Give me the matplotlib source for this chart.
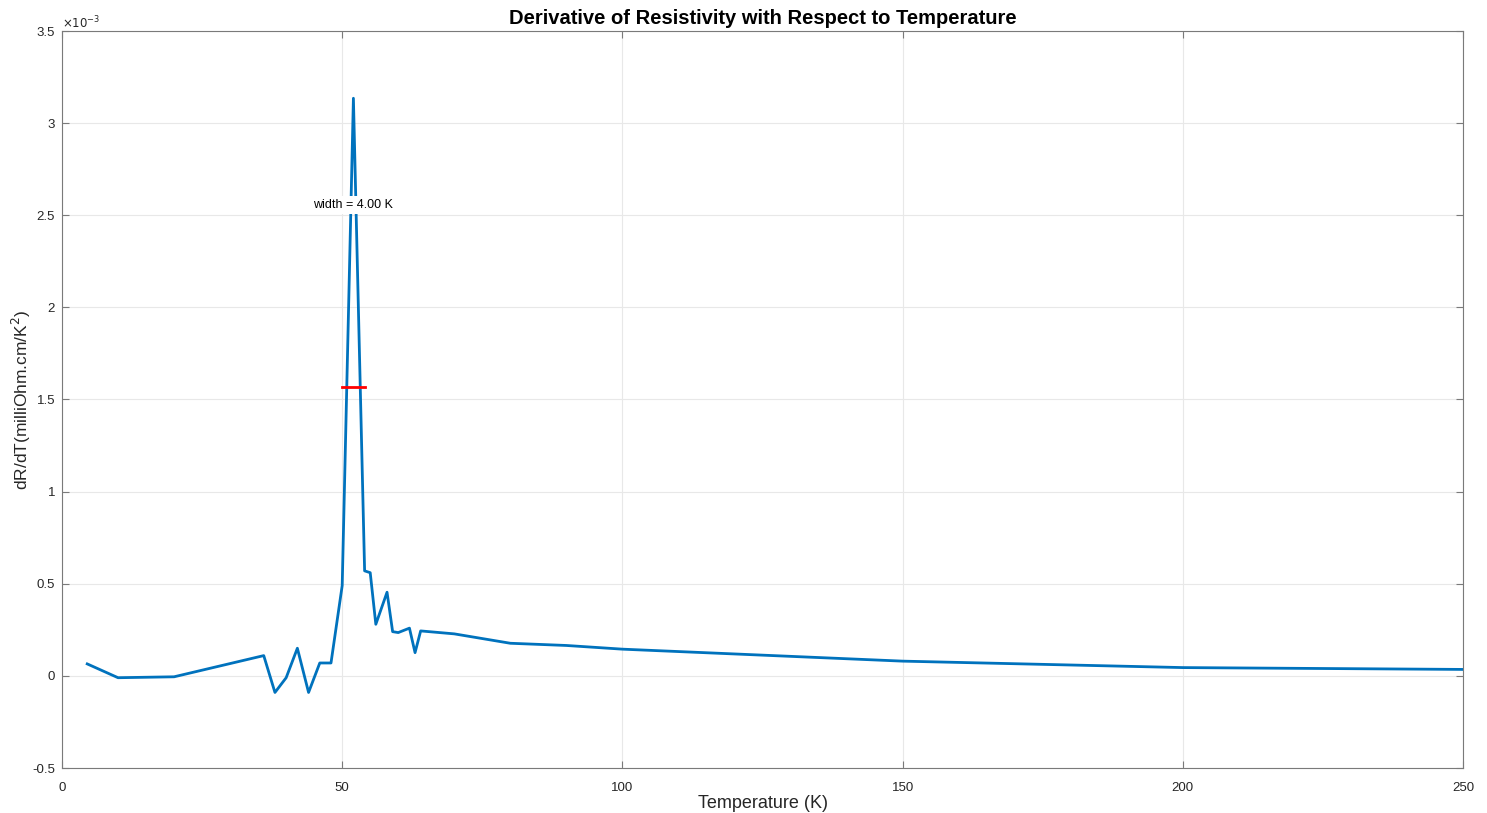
import matplotlib
matplotlib.use("Agg")
import matplotlib.pyplot as plt

plt.rcParams['font.family'] = ['Liberation Sans', 'DejaVu Sans']

# Data (temperature in K, dR/dT in milliOhm.cm/K^2)
temperature = [4.5, 10, 20, 36, 38, 40, 42, 44, 46, 48, 50, 52, 54, 55, 56, 58, 59, 60,
               62, 63, 64, 70, 80, 90, 100, 150, 200, 250]
drdt_e3 = [0.065, -0.01, -0.005, 0.11, -0.09, -0.01, 0.15, -0.09, 0.07, 0.07, 0.49, 3.135,
           0.57, 0.56, 0.28, 0.454, 0.24, 0.235, 0.259, 0.126, 0.244, 0.228, 0.177, 0.165,
           0.145, 0.08, 0.045, 0.035]
drdt = [v * 1e-3 for v in drdt_e3]

half_max = max(drdt) / 2
width_lo, width_hi = 50, 54
width_label = "width = 4.00 K"
label_pos = (52, 2.555e-3)

x_ticks = [0, 50, 100, 150, 200, 250]
x_ticklabels = ['0', '50', '100', '150', '200', '250']
y_ticks_e3 = [-0.5, 0, 0.5, 1, 1.5, 2, 2.5, 3, 3.5]
y_ticklabels = ['-0.5', '0', '0.5', '1', '1.5', '2', '2.5', '3', '3.5']

fig = plt.figure(figsize=(14.87, 8.13), dpi=100)
ax = fig.add_axes([62/1487, 45/813, (1463-62)/1487, (768-31)/813])

ax.plot(temperature, drdt, color='#0072BD', linewidth=2.0, zorder=3)
ax.plot([width_lo, width_hi], [half_max, half_max], color='#FF0000', linewidth=2.0, zorder=4)
ax.text(label_pos[0], label_pos[1], width_label, ha='center', va='center', fontsize=9,
        color='black', zorder=5,
        bbox=dict(facecolor='white', edgecolor='none', pad=2.0))

ax.set_xlim(0, 250)
ax.set_ylim(-0.5e-3, 3.5e-3)
ax.set_xticks(x_ticks)
ax.set_xticklabels(x_ticklabels)
ax.set_yticks([v * 1e-3 for v in y_ticks_e3])
ax.set_yticklabels(y_ticklabels)

ax.grid(True, color='#e8e8e8', linewidth=0.8, zorder=0)
ax.set_axisbelow(True)
for s in ax.spines.values():
    s.set_color('#7a7a7a')
    s.set_linewidth(0.8)
ax.tick_params(axis='both', which='both', direction='in', length=5, width=0.8,
               color='#7a7a7a', labelcolor='#262626', labelsize=9.5,
               top=True, right=True)
ax.tick_params(axis='x', pad=10)
ax.tick_params(axis='y', pad=5)

ax.text(0.0, 1.0, r'$\times10^{-3}$', transform=ax.transAxes, ha='left', va='bottom',
        fontsize=8.5, color='#262626')

ax.set_xlabel('Temperature (K)', fontsize=13, color='#262626')
ax.xaxis.set_label_coords(0.5, -0.036)
ax.set_ylabel(r'dR/dT(milliOhm.cm/K$^2$)', fontsize=12.5, color='#262626')
ax.yaxis.set_label_coords(-0.021, 0.5)
ax.set_title('Derivative of Resistivity with Respect to Temperature', fontsize=14.5,
             fontweight='bold', color='black', pad=5)

fig.savefig('out.png', dpi=100)
